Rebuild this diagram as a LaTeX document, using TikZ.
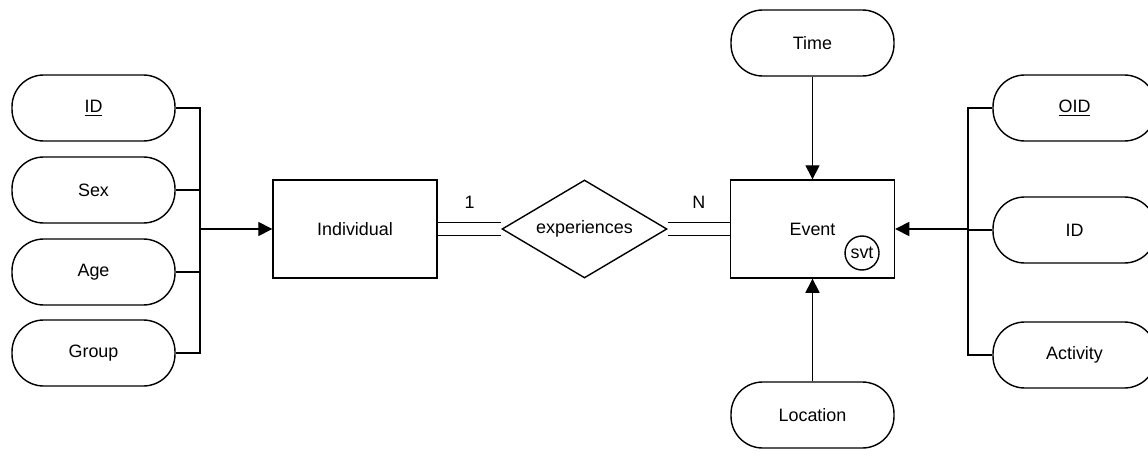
\documentclass[tikz,border=0pt]{standalone}
\usepackage{fontspec}
\setmainfont{Liberation Sans}
\usetikzlibrary{arrows.meta,shapes.geometric}
\begin{document}
\begin{tikzpicture}[x=0.02cm,y=-0.02cm,line width=0.8pt,font=\fontsize{10.2}{12}\selectfont]
  % Styles
  \tikzstyle{attribute}=[draw,rounded corners=18pt,minimum width=3.26cm,minimum height=1.32cm,inner sep=0pt]
  \tikzstyle{entity}=[draw,minimum width=3.28cm,minimum height=1.96cm,inner sep=0pt]
  \tikzstyle{relation}=[draw,diamond,aspect=1.68,minimum width=3.3cm,minimum height=1.96cm,inner sep=0pt]
  \tikzstyle{important line}=[-{Triangle[length=8pt,width=8pt]}]
  \tikzstyle{identifying}=[double,double distance=6.6pt]

  \useasboundingbox (0,0) rectangle (1148,456);

  % Individual and its attributes
  \node[attribute] (indid) at (93.5,108) {\underline{ID}};
  \node[attribute] (sex) at (93.5,190) {Sex};
  \node[attribute] (age) at (93.5,272) {Age};
  \node[attribute] (group) at (93.5,353) {Group};
  \node[entity] (individual) at (355,229) {Individual};
  \coordinate (lbus) at (200,229);

  % The relationship
  \node[relation] (experiences) at (584.5,229) {experiences};

  % Event and its attributes
  \node[entity] (event) at (812.5,229) {Event};
  \node[draw,circle,minimum size=0.68cm,inner sep=0pt] (svt) at (862,253) {svt};
  \node[attribute] (time) at (812.5,43) {Time};
  \node[attribute] (location) at (812.5,415) {Location};
  \node[attribute] (oid) at (1074.5,108) {\underline{OID}};
  \node[attribute] (evid) at (1074.5,230) {ID};
  \node[attribute] (activity) at (1074.5,355) {Activity};
  \coordinate (rbus) at (968,229);

  % Connectors
  \foreach \a in {indid,sex,age,group}
    \draw (\a.east) -| (lbus);
  \draw[style=important line] (lbus) -- (individual);

  \foreach \a in {oid,evid,activity}
    \draw (\a.west) -| (rbus);
  \draw[style=important line] (rbus) -- (event);

  \draw[style=important line] (time) -- (event);
  \draw[style=important line] (location) -- (event);

  \draw[style=identifying] (individual) -- node[above=8pt] {1} (experiences);
  \draw[style=identifying] (experiences) -- node[above=8pt] {N} (event);
\end{tikzpicture}
\end{document}
